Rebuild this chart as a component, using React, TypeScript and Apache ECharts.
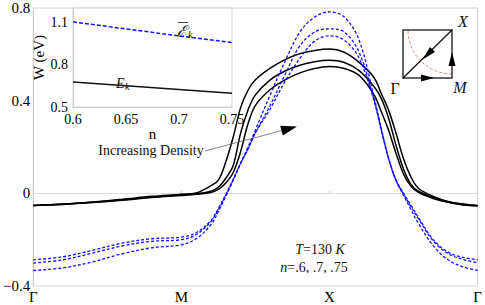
import React, { useEffect, useRef } from "react";
import * as echarts from "echarts";

// ---- data ----
const kPath = [0, 0.2, 0.4, 0.6, 0.8, 1.0, 1.1, 1.2, 1.25, 1.3, 1.35, 1.4, 1.45, 1.5, 1.6, 1.7, 1.8, 1.9, 2.0, 2.1, 2.2, 2.3, 2.35, 2.4, 2.45, 2.5, 2.55, 2.6, 2.7, 2.8, 2.9, 3.0];
const kLabels = ["Γ", "M", "X", "Γ"];

// black solid: E_k bands (n = .6, .7, .75)
const black1 = [-0.052, -0.046, -0.037, -0.026, -0.013, -0.004, 0.002, 0.033, 0.057, 0.136, 0.243, 0.37, 0.445, 0.49, 0.54, 0.577, 0.603, 0.617, 0.623, 0.609, 0.565, 0.5, 0.43, 0.357, 0.257, 0.148, 0.07, 0.022, -0.013, -0.035, -0.046, -0.052];
const black2 = [-0.052, -0.047, -0.039, -0.028, -0.016, -0.007, -0.002, 0.009, 0.026, 0.065, 0.12, 0.26, 0.36, 0.425, 0.49, 0.528, 0.553, 0.568, 0.574, 0.565, 0.53, 0.461, 0.409, 0.322, 0.204, 0.104, 0.039, 0.009, -0.017, -0.037, -0.048, -0.054];
const black3 = [-0.053, -0.048, -0.04, -0.03, -0.018, -0.009, -0.004, 0.004, 0.017, 0.045, 0.09, 0.18, 0.3, 0.38, 0.448, 0.49, 0.52, 0.539, 0.547, 0.539, 0.509, 0.426, 0.352, 0.27, 0.17, 0.083, 0.03, 0.004, -0.022, -0.039, -0.05, -0.054];

// blue dashed: Ē_k bands
const blue1 = [-0.333, -0.322, -0.296, -0.261, -0.235, -0.222, -0.196, -0.135, -0.078, -0.013, 0.057, 0.13, 0.2, 0.274, 0.426, 0.57, 0.696, 0.761, 0.783, 0.761, 0.661, 0.417, 0.278, 0.148, 0.052, -0.009, -0.07, -0.13, -0.226, -0.287, -0.317, -0.333];
const blue2 = [-0.301, -0.287, -0.258, -0.227, -0.207, -0.2, -0.178, -0.122, -0.07, -0.008, 0.059, 0.129, 0.193, 0.262, 0.38, 0.513, 0.637, 0.696, 0.71, 0.696, 0.609, 0.405, 0.274, 0.148, 0.054, -0.003, -0.058, -0.11, -0.205, -0.26, -0.285, -0.299];
const blue3 = [-0.287, -0.274, -0.246, -0.215, -0.196, -0.189, -0.17, -0.117, -0.065, -0.004, 0.061, 0.13, 0.191, 0.261, 0.365, 0.483, 0.583, 0.657, 0.68, 0.661, 0.583, 0.4, 0.27, 0.148, 0.057, 0, -0.052, -0.104, -0.2, -0.254, -0.276, -0.287];

// inset
const densityN = [0.6, 0.65, 0.7, 0.75];
const insetEbar = [1.102, 1.052, 1.003, 0.955];
const insetEk = [0.676, 0.65, 0.624, 0.598];

const SERIF = "Liberation Serif";

const pairs = (xs: number[], ys: number[]) => xs.map((x, i) => [x, ys[i]]);

export default function App() {
  const ref = useRef<HTMLDivElement>(null);
  useEffect(() => {
    if (!ref.current) return;
    const chart = echarts.init(ref.current, undefined, { renderer: "svg" });
    const blackLine = (data: number[]) => ({
      type: "line",
      data: pairs(kPath, data),
      smooth: 0.35,
      showSymbol: false,
      symbol: "none",
      lineStyle: { color: "#000", width: 1.5 },
      z: 3,
    });
    const blueLine = (data: number[]) => ({
      type: "line",
      data: pairs(kPath, data),
      smooth: 0.35,
      showSymbol: false,
      symbol: "none",
      lineStyle: { color: "#1010ff", width: 1.3, type: [3, 2] },
      z: 3,
    });
    const option: any = {
      animation: false,
      backgroundColor: "#fff",
      textStyle: { fontFamily: SERIF },
      grid: [
        { left: 30, right: 4, top: 8, bottom: 19, show: true, borderColor: "#d0d0d0", borderWidth: 1, backgroundColor: "transparent" },
        { left: 73, top: 8, width: 159, height: 99, show: true, borderColor: "#d0d0d0", borderWidth: 1, backgroundColor: "#fff", z: 5 },
      ],
      xAxis: [
        {
          type: "value", gridIndex: 0, min: 0, max: 3, interval: 1,
          axisLine: { show: true, lineStyle: { color: "#d0d0d0" } },
          axisTick: { show: true, inside: true, length: 3, lineStyle: { color: "#c8c8c8" } },
          splitLine: { show: false },
          axisLabel: { formatter: (v: number) => kLabels[Math.round(v)] ?? "", color: "#000", fontSize: 15, fontFamily: SERIF, margin: 3 },
        },
        {
          type: "value", gridIndex: 1, min: 0.6, max: 0.75, interval: 0.05,
          axisLine: { show: true, lineStyle: { color: "#d0d0d0" } },
          axisTick: { show: false },
          splitLine: { show: false },
          axisLabel: { color: "#000", fontSize: 14, fontFamily: SERIF, margin: 5 },
          name: "n", nameLocation: "middle", nameGap: 15,
          nameTextStyle: { color: "#000", fontSize: 15, fontFamily: SERIF },
          z: 6,
        },
      ],
      yAxis: [
        {
          type: "value", gridIndex: 0, min: -0.4, max: 0.8, interval: 0.4,
          axisLine: { show: true, lineStyle: { color: "#d0d0d0" } },
          axisTick: { show: false },
          splitLine: { show: false },
          axisLabel: {
            formatter: (v: number) => {
              const r = Math.round(v * 10) / 10;
              if (r === 0) return "0";
              return (r < 0 ? "−" : "") + Math.abs(r).toString();
            },
            color: "#000", fontSize: 15, fontFamily: SERIF, margin: 3,
          },
        },
        {
          type: "value", gridIndex: 1, min: 0.5, max: 1.2, interval: 0.1,
          axisLine: { show: true, lineStyle: { color: "#d0d0d0" } },
          axisTick: { show: false },
          splitLine: { show: false },
          axisLabel: {
            formatter: (v: number) => {
              const r = Math.round(v * 10);
              return r === 5 ? "0.5" : r === 8 ? "0.8" : r === 11 ? "1.1" : "";
            },
            color: "#000", fontSize: 14, fontFamily: SERIF, margin: 5, lineHeight: 12,
          },
          name: "W (eV)", nameLocation: "middle", nameGap: 27, nameRotate: 90,
          nameTextStyle: { color: "#000", fontSize: 15, fontFamily: SERIF },
          z: 6,
        },
      ],
      series: [
        {
          ...blackLine(black1),
          markLine: {
            silent: true, symbol: "none", label: { show: false },
            lineStyle: { color: "#dcdcdc", type: "solid", width: 1 },
            data: [{ yAxis: 0 }], z: 1,
          },
        },
        blackLine(black2),
        blackLine(black3),
        blueLine(blue1),
        blueLine(blue2),
        blueLine(blue3),
        {
          type: "line", xAxisIndex: 1, yAxisIndex: 1, data: pairs(densityN, insetEbar),
          showSymbol: false, symbol: "none", lineStyle: { color: "#1010ff", width: 1.5, type: [4, 2] }, z: 7,
        },
        {
          type: "line", xAxisIndex: 1, yAxisIndex: 1, data: pairs(densityN, insetEk),
          showSymbol: false, symbol: "none", lineStyle: { color: "#111", width: 1.5 }, z: 7,
        },
      ],
      graphic: [
        // inset labels
        { type: "text", z: 20, style: { x: 177, y: 23, text: "ℰ", fontSize: 16, fontStyle: "italic", fontFamily: SERIF, fill: "#111", textAlign: "left", textVerticalAlign: "top" } },
        { type: "text", z: 20, style: { x: 188, y: 29, text: "k", fontSize: 10, fontStyle: "italic", fontFamily: SERIF, fill: "#111", textAlign: "left", textVerticalAlign: "top" } },
        { type: "line", z: 20, shape: { x1: 178, y1: 22.5, x2: 188, y2: 22.5 }, style: { stroke: "#111", lineWidth: 0.8 } },
        { type: "text", z: 20, style: { x: 116, y: 76, text: "E", fontSize: 14, fontStyle: "italic", fontFamily: SERIF, fill: "#111", textAlign: "left", textVerticalAlign: "top" } },
        { type: "text", z: 20, style: { x: 125, y: 81, text: "k", fontSize: 10, fontStyle: "italic", fontFamily: SERIF, fill: "#111", textAlign: "left", textVerticalAlign: "top" } },
        // annotation
        { type: "text", z: 20, style: { x: 151, y: 150, text: "Increasing Density", fontSize: 14, fontFamily: SERIF, fill: "#111", textAlign: "center", textVerticalAlign: "middle" } },
        { type: "line", z: 20, shape: { x1: 205, y1: 151, x2: 284, y2: 130 }, style: { stroke: "#666", lineWidth: 0.8 } },
        { type: "polygon", z: 20, shape: { points: [[297, 126.5], [282.8, 135.4], [280.2, 125.8]] }, style: { fill: "#000" } },
        // parameters
        {
          type: "text", z: 20,
          style: {
            x: 320, y: 249, text: "{i|T}=130 {i|K}", fontSize: 14, fontFamily: SERIF, fill: "#111",
            textAlign: "center", textVerticalAlign: "middle",
            rich: { i: { fontStyle: "italic", fontSize: 14, fontFamily: SERIF, fill: "#111" } },
          },
        },
        {
          type: "text", z: 20,
          style: {
            x: 314, y: 267, text: "{i|n}=.6, .7, .75", fontSize: 14, fontFamily: SERIF, fill: "#111",
            textAlign: "center", textVerticalAlign: "middle",
            rich: { i: { fontStyle: "italic", fontSize: 14, fontFamily: SERIF, fill: "#111" } },
          },
        },
        // Brillouin zone path
        { type: "arc", z: 20, shape: { cx: 452, cy: 30, r: 44, startAngle: Math.PI / 2, endAngle: Math.PI, clockwise: true }, style: { stroke: "#f08080", lineWidth: 1, lineDash: [3, 2], fill: "none" } },
        { type: "rect", z: 21, shape: { x: 403, y: 30, width: 49, height: 48 }, style: { stroke: "#333", lineWidth: 1.5, fill: "none" } },
        { type: "line", z: 21, shape: { x1: 403, y1: 78, x2: 452, y2: 30 }, style: { stroke: "#111", lineWidth: 1.3 } },
        { type: "polygon", z: 22, shape: { points: [[434, 78], [421, 74.5], [421, 81.5]] }, style: { fill: "#000" } },
        { type: "polygon", z: 22, shape: { points: [[452, 52], [448.5, 66], [455.5, 66]] }, style: { fill: "#000" } },
        { type: "polygon", z: 22, shape: { points: [[422.5, 59.5], [435, 52], [430, 47]] }, style: { fill: "#000" } },
        { type: "text", z: 22, style: { x: 463, y: 21, text: "X", fontSize: 16, fontStyle: "italic", fontFamily: SERIF, fill: "#111", textAlign: "center", textVerticalAlign: "middle" } },
        { type: "text", z: 22, style: { x: 395, y: 88, text: "Γ", fontSize: 16, fontFamily: SERIF, fill: "#111", textAlign: "center", textVerticalAlign: "middle" } },
        { type: "text", z: 22, style: { x: 460, y: 87, text: "M", fontSize: 16, fontStyle: "italic", fontFamily: SERIF, fill: "#111", textAlign: "center", textVerticalAlign: "middle" } },
      ],
    };
    chart.setOption(option);
    return () => chart.dispose();
  }, []);
  return <div ref={ref} style={{ width: 485, height: 305, position: "absolute", left: 0, top: 0 }} />;
}
